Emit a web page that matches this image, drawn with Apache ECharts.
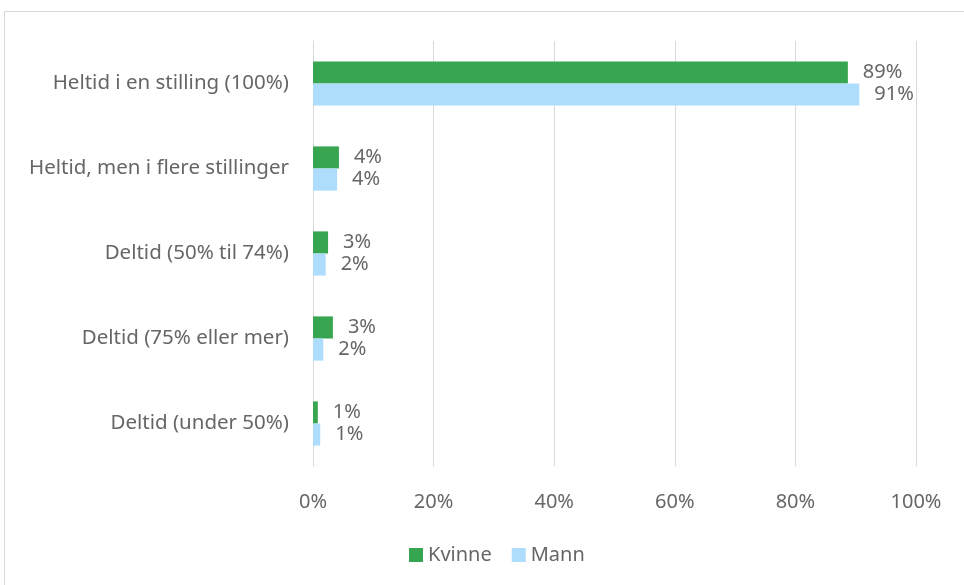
<!DOCTYPE html>
<html>
<head>
<meta charset="utf-8">
<script src="https://cdn.jsdelivr.net/npm/echarts@6/dist/echarts.min.js"></script>
<style>
html,body{margin:0;padding:0;background:#fff;}
#frame{position:absolute;left:4px;top:11px;width:980px;height:600px;border:1px solid #d9d9d9;box-sizing:border-box;}
#chart{position:absolute;left:0;top:0;width:964px;height:585px;}
</style>
</head>
<body>
<div id="frame"></div>
<div id="chart"></div>
<script>
// kategorier (ovenfra og ned)
var kategorier = ['Heltid i en stilling (100%)', 'Heltid, men i flere stillinger', 'Deltid (50% til 74%)', 'Deltid (75% eller mer)', 'Deltid (under 50%)'];
var kvinne = [88.7, 4.3, 2.5, 3.3, 0.8];
var mann = [90.6, 4.0, 2.1, 1.7, 1.2];
var tikker = [0, 20, 40, 60, 80, 100];

var font = 'Noto Sans';
var tekstfarge = '#666666';
var myChart = echarts.init(document.getElementById('chart'));

function serie(navn, data, farge) {
	return {
		name: navn,
		type: 'bar',
		data: data,
		barGap: '0%',
		barCategoryGap: '48%',
		itemStyle: { color: farge },
		label: {
			show: true,
			position: 'right',
			distance: 15,
			color: tekstfarge,
			fontFamily: font,
			fontSize: 20,
			formatter: function(p) { return Math.round(p.value) + '%'; }
		}
	};
}

var option = {
	backgroundColor: 'transparent',
	animation: false,
	grid: { left: 313, right: 48, top: 41, bottom: 119 },
	legend: {
		top: 540,
		left: 404,
		itemWidth: 14,
		itemHeight: 14,
		itemGap: 20,
		icon: 'rect',
		textStyle: { color: tekstfarge, fontFamily: font, fontSize: 20 },
		data: ['Kvinne', 'Mann']
	},
	xAxis: {
		type: 'value',
		min: tikker[0],
		max: tikker[tikker.length - 1],
		interval: 20,
		axisLine: { show: false },
		axisTick: { show: false },
		axisLabel: { color: tekstfarge, fontFamily: font, fontSize: 20, margin: 26, formatter: '{value}%' },
		splitLine: { lineStyle: { color: '#d9d9d9', width: 1 } }
	},
	yAxis: {
		type: 'category',
		inverse: true,
		data: kategorier,
		axisLine: { show: true, lineStyle: { color: '#d9d9d9' } },
		axisTick: { show: false },
		axisLabel: { color: tekstfarge, fontFamily: font, fontSize: 20.5, margin: 24 }
	},
	series: [
		serie('Kvinne', kvinne, '#38a550'),
		serie('Mann', mann, '#addcfd')
	]
};
myChart.setOption(option);
</script>
</body>
</html>
